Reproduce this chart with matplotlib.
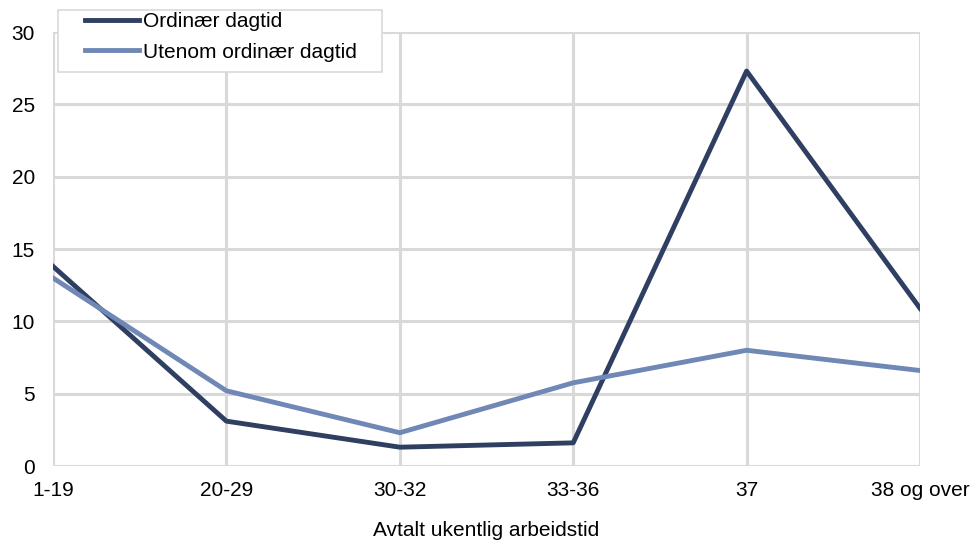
import matplotlib.pyplot as plt
from matplotlib.patches import Rectangle
import numpy as np

plt.rcParams['font.family'] = ['Liberation Sans', 'DejaVu Sans']

categories = ["1-19", "20-29", "30-32", "33-36", "37", "38 og over"]
ordinaer = [13.8, 3.1, 1.3, 1.6, 27.3, 10.9]
utenom = [13.0, 5.2, 2.3, 5.75, 8.0, 6.6]

W, H = 973, 543
fig = plt.figure(figsize=(W / 100, H / 100), dpi=100)
ax = fig.add_axes([53 / W, 1 - 466 / H, 867 / W, 434 / H])

x = np.arange(len(categories))
ax.plot(x, ordinaer, color="#2F3F62", linewidth=3.5, label="Ordinær dagtid", zorder=3)
ax.plot(x, utenom, color="#6F88B6", linewidth=3.5, label="Utenom ordinær dagtid", zorder=3)

ax.set_xlim(0, len(categories) - 1)
ax.set_ylim(0, 30)
ax.set_xticks(x)
ax.set_xticklabels(categories)
ax.set_yticks(np.arange(0, 31, 5))
ax.grid(True, color="#D9D9D9", linewidth=2.2)
ax.set_axisbelow(True)
for s in ax.spines.values():
    s.set_visible(False)
ax.tick_params(length=0, labelsize=15, pad=11)
ax.tick_params(axis="y", pad=13)
ax.set_xlabel("Avtalt ukentlig arbeidstid", fontsize=15, labelpad=15)

# legend box (white with grey border), legend itself drawn without frame on top
box = Rectangle((58 / W, 1 - 72 / H), 324 / W, 62 / H, transform=fig.transFigure,
                facecolor="white", edgecolor="#D9D9D9", linewidth=1.2,
                clip_on=False, zorder=4)
ax.add_patch(box)
leg = ax.legend(loc="upper left", bbox_to_anchor=(79 / W, 1 - 6 / H),
                bbox_transform=fig.transFigure,
                fontsize=15, frameon=False, handlelength=2.6,
                handletextpad=0.15, borderpad=0.3, labelspacing=0.55,
                borderaxespad=0)
leg.set_zorder(5)

fig.savefig("out.png", dpi=100)
